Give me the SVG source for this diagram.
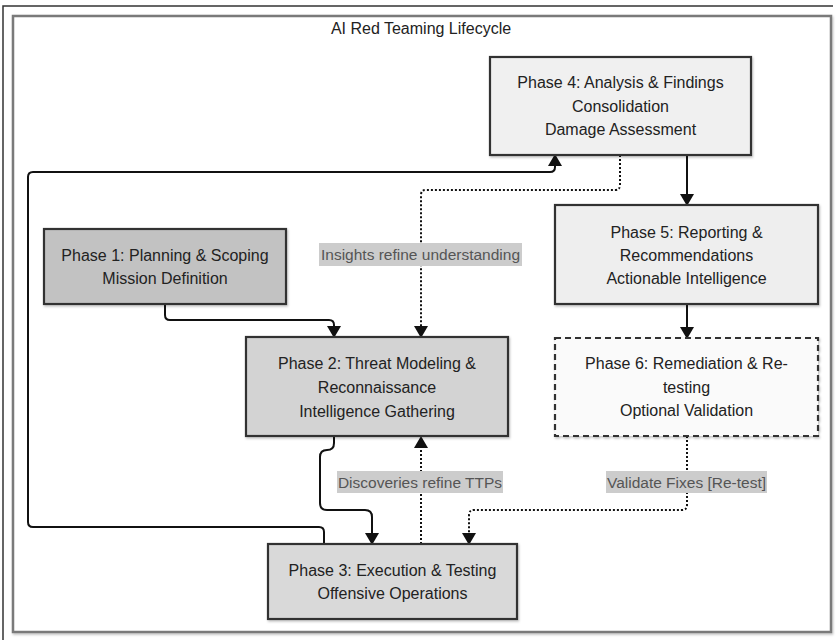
<svg xmlns="http://www.w3.org/2000/svg" width="838" height="640" viewBox="0 0 838 640">
  <style>
    .frame { fill: #ffffff; stroke: #7a7a7a; stroke-width: 2.5; }
    .node rect { stroke: #333333; stroke-width: 2.2; }
    .node text, .title { font-family: "Liberation Sans", Arial, sans-serif; font-size: 16px; fill: #222222; text-anchor: middle; }
    .edge { fill: none; stroke: #111111; stroke-width: 2; }
    .dotted { stroke-dasharray: 2 2; }
    .lbl rect { fill: #cccccc; }
    .lbl text { font-family: "Liberation Sans", Arial, sans-serif; font-size: 15.5px; fill: #555555; text-anchor: middle; }
  </style>
  <defs>
    <filter id="shadow" x="-10%" y="-10%" width="120%" height="130%">
      <feDropShadow dx="1" dy="1.5" stdDeviation="1.2" flood-color="#000000" flood-opacity="0.25"/>
    </filter>
    <marker id="arrow" viewBox="0 0 12 14" refX="11" refY="7" markerWidth="12" markerHeight="14" markerUnits="userSpaceOnUse" orient="auto">
      <path d="M0,0 L12,7 L0,14 Z" fill="#111111"/>
    </marker>
  </defs>

  <!-- page border and canvas frame -->
  <path d="M3,640 V6 H833" fill="none" stroke="#333333" stroke-width="1.5"/>
  <rect class="frame" x="13" y="16" width="818" height="616" filter="url(#shadow)"/>
  <text class="title" x="421" y="34">AI Red Teaming Lifecycle</text>

  <!-- connectors -->
  <g id="connectors">
    <!-- Phase 1 to Phase 2 -->
    <path class="edge" d="M165,304 V315 Q165,320 170,320 H329 Q334,320 334,325 V337" marker-end="url(#arrow)"/>
    <!-- Phase 4 insights back to Phase 2 -->
    <path class="edge dotted" d="M620,155 V185 Q620,190 615,190 H426 Q421,190 421,195 V337" marker-end="url(#arrow)"/>
    <!-- Phase 4 to Phase 5 -->
    <path class="edge" d="M687,155 V205" marker-end="url(#arrow)"/>
    <!-- Phase 5 to Phase 6 -->
    <path class="edge" d="M687,304 V338" marker-end="url(#arrow)"/>
    <!-- Phase 2 to Phase 3 -->
    <path class="edge" d="M334,436 V443 Q334,450 327,450 Q320,450 320,457 V503 Q320,510 327,510 H365 Q372,510 372,517 V544" marker-end="url(#arrow)"/>
    <!-- Phase 3 discoveries back to Phase 2 -->
    <path class="edge dotted" d="M421,544 V437" marker-end="url(#arrow)"/>
    <!-- Phase 6 re-test to Phase 3 -->
    <path class="edge dotted" d="M687,436 V505 Q687,510 682,510 H474 Q469,510 469,515 V544" marker-end="url(#arrow)"/>
    <!-- Phase 3 to Phase 4 loop -->
    <path class="edge" d="M324,544 V532 Q324,527 319,527 H33 Q28,527 28,522 V177 Q28,172 33,172 H550 Q555,172 555,167 V155" marker-end="url(#arrow)"/>

    <g class="lbl">
      <rect x="319" y="243" width="203" height="23"/>
      <text x="420.5" y="260">Insights refine understanding</text>
    </g>
    <g class="lbl">
      <rect x="337" y="471" width="166" height="22"/>
      <text x="420" y="487.5">Discoveries refine TTPs</text>
    </g>
    <g class="lbl">
      <rect x="606" y="471" width="161" height="22"/>
      <text x="686.5" y="487.5">Validate Fixes [Re-test]</text>
    </g>
  </g>

  <!-- phases -->
  <g id="phase1" class="node">
    <rect x="44" y="229" width="242" height="75" fill="#c2c2c2" filter="url(#shadow)"/>
    <text x="165" y="261">Phase 1: Planning &amp; Scoping</text>
    <text x="165" y="284">Mission Definition</text>
  </g>
  <g id="phase2" class="node">
    <rect x="246" y="337" width="262" height="99" fill="#d3d3d3" filter="url(#shadow)"/>
    <text x="377" y="369">Phase 2: Threat Modeling &amp;</text>
    <text x="377" y="393">Reconnaissance</text>
    <text x="377" y="417">Intelligence Gathering</text>
  </g>
  <g id="phase3" class="node">
    <rect x="268" y="544" width="249" height="75" fill="#d9d9d9" filter="url(#shadow)"/>
    <text x="392.5" y="576">Phase 3: Execution &amp; Testing</text>
    <text x="392.5" y="599">Offensive Operations</text>
  </g>
  <g id="phase4" class="node">
    <rect x="490" y="57" width="261" height="98" fill="#f0f0f0" filter="url(#shadow)"/>
    <text x="620.5" y="88">Phase 4: Analysis &amp; Findings</text>
    <text x="620.5" y="112">Consolidation</text>
    <text x="620.5" y="135">Damage Assessment</text>
  </g>
  <g id="phase5" class="node">
    <rect x="555" y="205" width="263" height="99" fill="#eeeeee" filter="url(#shadow)"/>
    <text x="686.5" y="238">Phase 5: Reporting &amp;</text>
    <text x="686.5" y="261">Recommendations</text>
    <text x="686.5" y="284">Actionable Intelligence</text>
  </g>
  <g id="phase6" class="node">
    <rect x="555" y="338" width="263" height="98" fill="#fafafa" stroke-dasharray="6 4" filter="url(#shadow)"/>
    <text x="686.5" y="369">Phase 6: Remediation &amp; Re-</text>
    <text x="686.5" y="393">testing</text>
    <text x="686.5" y="416">Optional Validation</text>
  </g>
</svg>
